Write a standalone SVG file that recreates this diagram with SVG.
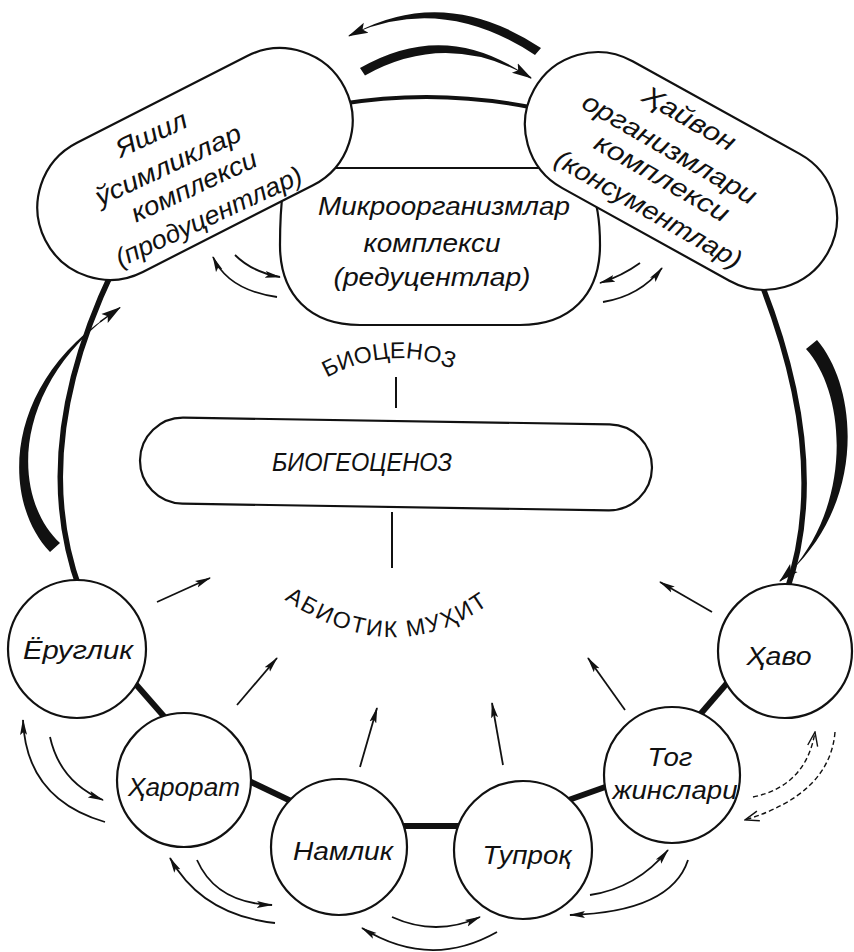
<svg xmlns="http://www.w3.org/2000/svg" width="854" height="952" viewBox="0 0 854 952">
<defs>
<style>
.ln{fill:none;stroke:#111;}
.nd{fill:#fff;stroke:#111;stroke-width:2.2;}
.th{fill:#111;stroke:none;}
.t{font-family:"Liberation Sans","DejaVu Sans",sans-serif;font-style:italic;fill:#111;text-anchor:middle;}
.cap{font-family:"Liberation Sans","DejaVu Sans",sans-serif;fill:#111;}
.a{fill:none;stroke:#111;stroke-width:1.8;marker-end:url(#ah);}
.d{fill:none;stroke:#111;stroke-width:1.4;stroke-dasharray:5 3;marker-end:url(#ao);}
</style>
<marker id="ah" markerUnits="userSpaceOnUse" markerWidth="16" markerHeight="10" viewBox="0 0 16 10" refX="15" refY="5" orient="auto">
<path d="M0,1.5 L16,5 L0,8.5 L3,5 z" fill="#111"/>
</marker>
<marker id="ao" markerUnits="userSpaceOnUse" markerWidth="16" markerHeight="12" viewBox="0 0 16 12" refX="15" refY="6" orient="auto">
<path d="M1,1 L15,6 L1,11" fill="none" stroke="#111" stroke-width="1.4"/>
</marker>
<marker id="ab" markerUnits="userSpaceOnUse" markerWidth="20" markerHeight="14" viewBox="0 0 20 14" refX="19" refY="7" orient="auto">
<path d="M0,1.5 L20,7 L0,12.5 L4,7 z" fill="#111"/>
</marker>
<path id="pBio" d="M316,384 Q390,338 464,374"/>
<path id="pAbio" d="M274,592 Q394,680 500,596"/>
</defs>
<rect width="854" height="952" fill="#fff"/>

<g id="connectors">
<path class="ln" stroke-width="5.5" d="M113,270 Q28,448 80,590"/>
<path class="ln" stroke-width="5.5" d="M762,285 Q831,462 787,590"/>
<path class="ln" stroke-width="4" d="M340,104 Q437,88 535,108"/>
<line class="ln" stroke-width="6" x1="133" y1="681" x2="168" y2="721"/>
<line class="ln" stroke-width="6" x1="249" y1="781" x2="293" y2="802"/>
<line class="ln" stroke-width="6" x1="400" y1="826" x2="462" y2="826"/>
<line class="ln" stroke-width="6" x1="563" y1="802" x2="608" y2="786"/>
<line class="ln" stroke-width="6" x1="697" y1="718" x2="728" y2="682"/>
<line class="ln" stroke-width="2" x1="396" y1="377" x2="396" y2="408"/>
<line class="ln" stroke-width="2" x1="392" y1="512" x2="392" y2="568"/>
</g>

<g id="node-reducents">
<path class="nd" d="M290,168 H560 C590,168 600,200 600,245 C600,295 570,325 520,325 H360 C310,325 280,295 280,245 C280,200 285,168 290,168 Z"/>
<text class="t" font-size="26" x="444" y="215" textLength="252" lengthAdjust="spacingAndGlyphs">Микроорганизмлар</text>
<text class="t" font-size="26" x="432" y="252" textLength="137" lengthAdjust="spacingAndGlyphs">комплекси</text>
<text class="t" font-size="26" x="432" y="286" textLength="197" lengthAdjust="spacingAndGlyphs">(редуцентлар)</text>
</g>

<g id="node-producents">
<rect class="nd" x="-168" y="-72.5" width="336" height="145" rx="72.5" transform="translate(195,164) rotate(-27)"/>
<g transform="translate(185,180) rotate(-25)">
<text class="t" font-size="26" x="-11" y="-47" textLength="76" lengthAdjust="spacingAndGlyphs">Яшил</text>
<text class="t" font-size="26" x="-9" y="-12" textLength="158" lengthAdjust="spacingAndGlyphs">ўсимликлар</text>
<text class="t" font-size="26" x="5.5" y="18" textLength="136" lengthAdjust="spacingAndGlyphs">комплекси</text>
<text class="t" font-size="26" x="6" y="52" textLength="203" lengthAdjust="spacingAndGlyphs">(продуцентлар)</text>
</g>
</g>

<g id="node-consumers">
<rect class="nd" x="-168" y="-72.5" width="336" height="145" rx="72.5" transform="translate(681,171) rotate(29)"/>
<g transform="translate(685,170) rotate(30)">
<text class="t" font-size="26" x="-22" y="-38" textLength="103" lengthAdjust="spacingAndGlyphs">Ҳайвон</text>
<text class="t" font-size="26" x="-24" y="-2" textLength="197" lengthAdjust="spacingAndGlyphs">организмлари</text>
<text class="t" font-size="26" x="-16" y="27" textLength="151" lengthAdjust="spacingAndGlyphs">комплекси</text>
<text class="t" font-size="26" x="-12" y="61" textLength="211" lengthAdjust="spacingAndGlyphs">(консументлар)</text>
</g>
</g>

<g id="node-biogeocenoz">
<rect class="nd" x="140" y="421" width="512" height="86" rx="43" transform="rotate(0.9,396,463)"/>
<text class="cap" font-size="26" font-style="italic" x="272" y="471" textLength="180" lengthAdjust="spacingAndGlyphs">БИОГЕОЦЕНОЗ</text>
</g>

<g id="label-biocenoz">
<text class="cap" font-size="23"><textPath href="#pBio" startOffset="50%" text-anchor="middle">БИОЦЕНОЗ</textPath></text>
</g>
<g id="label-abiotic">
<text class="cap" font-size="23" letter-spacing="2"><textPath href="#pAbio" startOffset="50%" text-anchor="middle">АБИОТИК  МУҲИТ</textPath></text>
</g>

<g id="node-yorug">
<circle class="nd" cx="77" cy="649" r="69"/>
<text class="t" font-size="25" x="78" y="659" textLength="110" lengthAdjust="spacingAndGlyphs">Ёруглик</text>
</g>
<g id="node-harorat">
<circle class="nd" cx="184" cy="780" r="67"/>
<text class="t" font-size="25" x="184" y="796" textLength="112" lengthAdjust="spacingAndGlyphs">Ҳарорат</text>
</g>
<g id="node-namlik">
<circle class="nd" cx="339" cy="847" r="68"/>
<text class="t" font-size="25" x="343" y="860" textLength="100" lengthAdjust="spacingAndGlyphs">Намлик</text>
</g>
<g id="node-tuproq">
<circle class="nd" cx="523" cy="850" r="69"/>
<text class="t" font-size="25" x="527" y="864" textLength="89" lengthAdjust="spacingAndGlyphs">Тупроқ</text>
</g>
<g id="node-tog">
<circle class="nd" cx="672" cy="775" r="68"/>
<text class="t" font-size="25" x="670" y="766" textLength="45" lengthAdjust="spacingAndGlyphs">Тог</text>
<text class="t" font-size="25" x="675" y="799" textLength="125" lengthAdjust="spacingAndGlyphs">жинслари</text>
</g>
<g id="node-havo">
<circle class="nd" cx="785" cy="651" r="67"/>
<text class="t" font-size="25" x="779" y="665" textLength="65" lengthAdjust="spacingAndGlyphs">Ҳаво</text>
</g>

<g id="arrows">
<path class="th" d="M541,48 Q446,-15 355,33 Q444,-5 535,55 Z"/>
<path class="ln" stroke-width="1.5" marker-end="url(#ab)" d="M362,29.7 L349,35.9"/>
<path class="th" d="M360,68 Q445,19 526,75 Q445,31 365,75.5 Z"/>
<path class="ln" stroke-width="1.5" marker-end="url(#ab)" d="M518,70 L531,78"/>
<path class="th" d="M50,552 C2,502 2,388 108,316 C11,392 12,498 60,543 Z"/>
<path class="ln" stroke-width="1.5" marker-end="url(#ab)" d="M100,321.8 L120,307.5"/>
<path class="th" d="M817,340 C858,388 866,500 790,572 C853,502 846,393 806,349 Z"/>
<path class="ln" stroke-width="1.5" marker-end="url(#ab)" d="M796,566 L780,581"/>
<path class="a" d="M157,602 L210,578"/>
<path class="a" d="M237,705 L277,658"/>
<path class="a" d="M360,767 L377,708"/>
<path class="a" d="M503,765 L492,703"/>
<path class="a" d="M625,710 L588,658"/>
<path class="a" d="M712,612 L660,582"/>
<path class="a" d="M277,297 Q228,290 213,257"/>
<path class="a" d="M235,255 Q252,272 280,277"/>
<path class="a" d="M640,263 Q622,276 600,283"/>
<path class="a" d="M603,302 Q640,296 662,268"/>
<path class="a" d="M105,822 Q26,799 23,720"/>
<path class="a" d="M50,737 Q60,782 103,800"/>
<path class="a" d="M275,923 Q202,915 170,858"/>
<path class="a" d="M197,860 Q216,903 272,905"/>
<path class="a" d="M392,917 Q436,937 480,917"/>
<path class="a" d="M497,932 Q430,970 362,928"/>
<path class="a" d="M590,895 Q637,888 668,850"/>
<path class="a" d="M688,860 Q671,912 570,915"/>
<path class="d" d="M753,797 Q806,786 815,732"/>
<path class="d" d="M835,732 Q830,794 745,820"/>
</g>
</svg>
